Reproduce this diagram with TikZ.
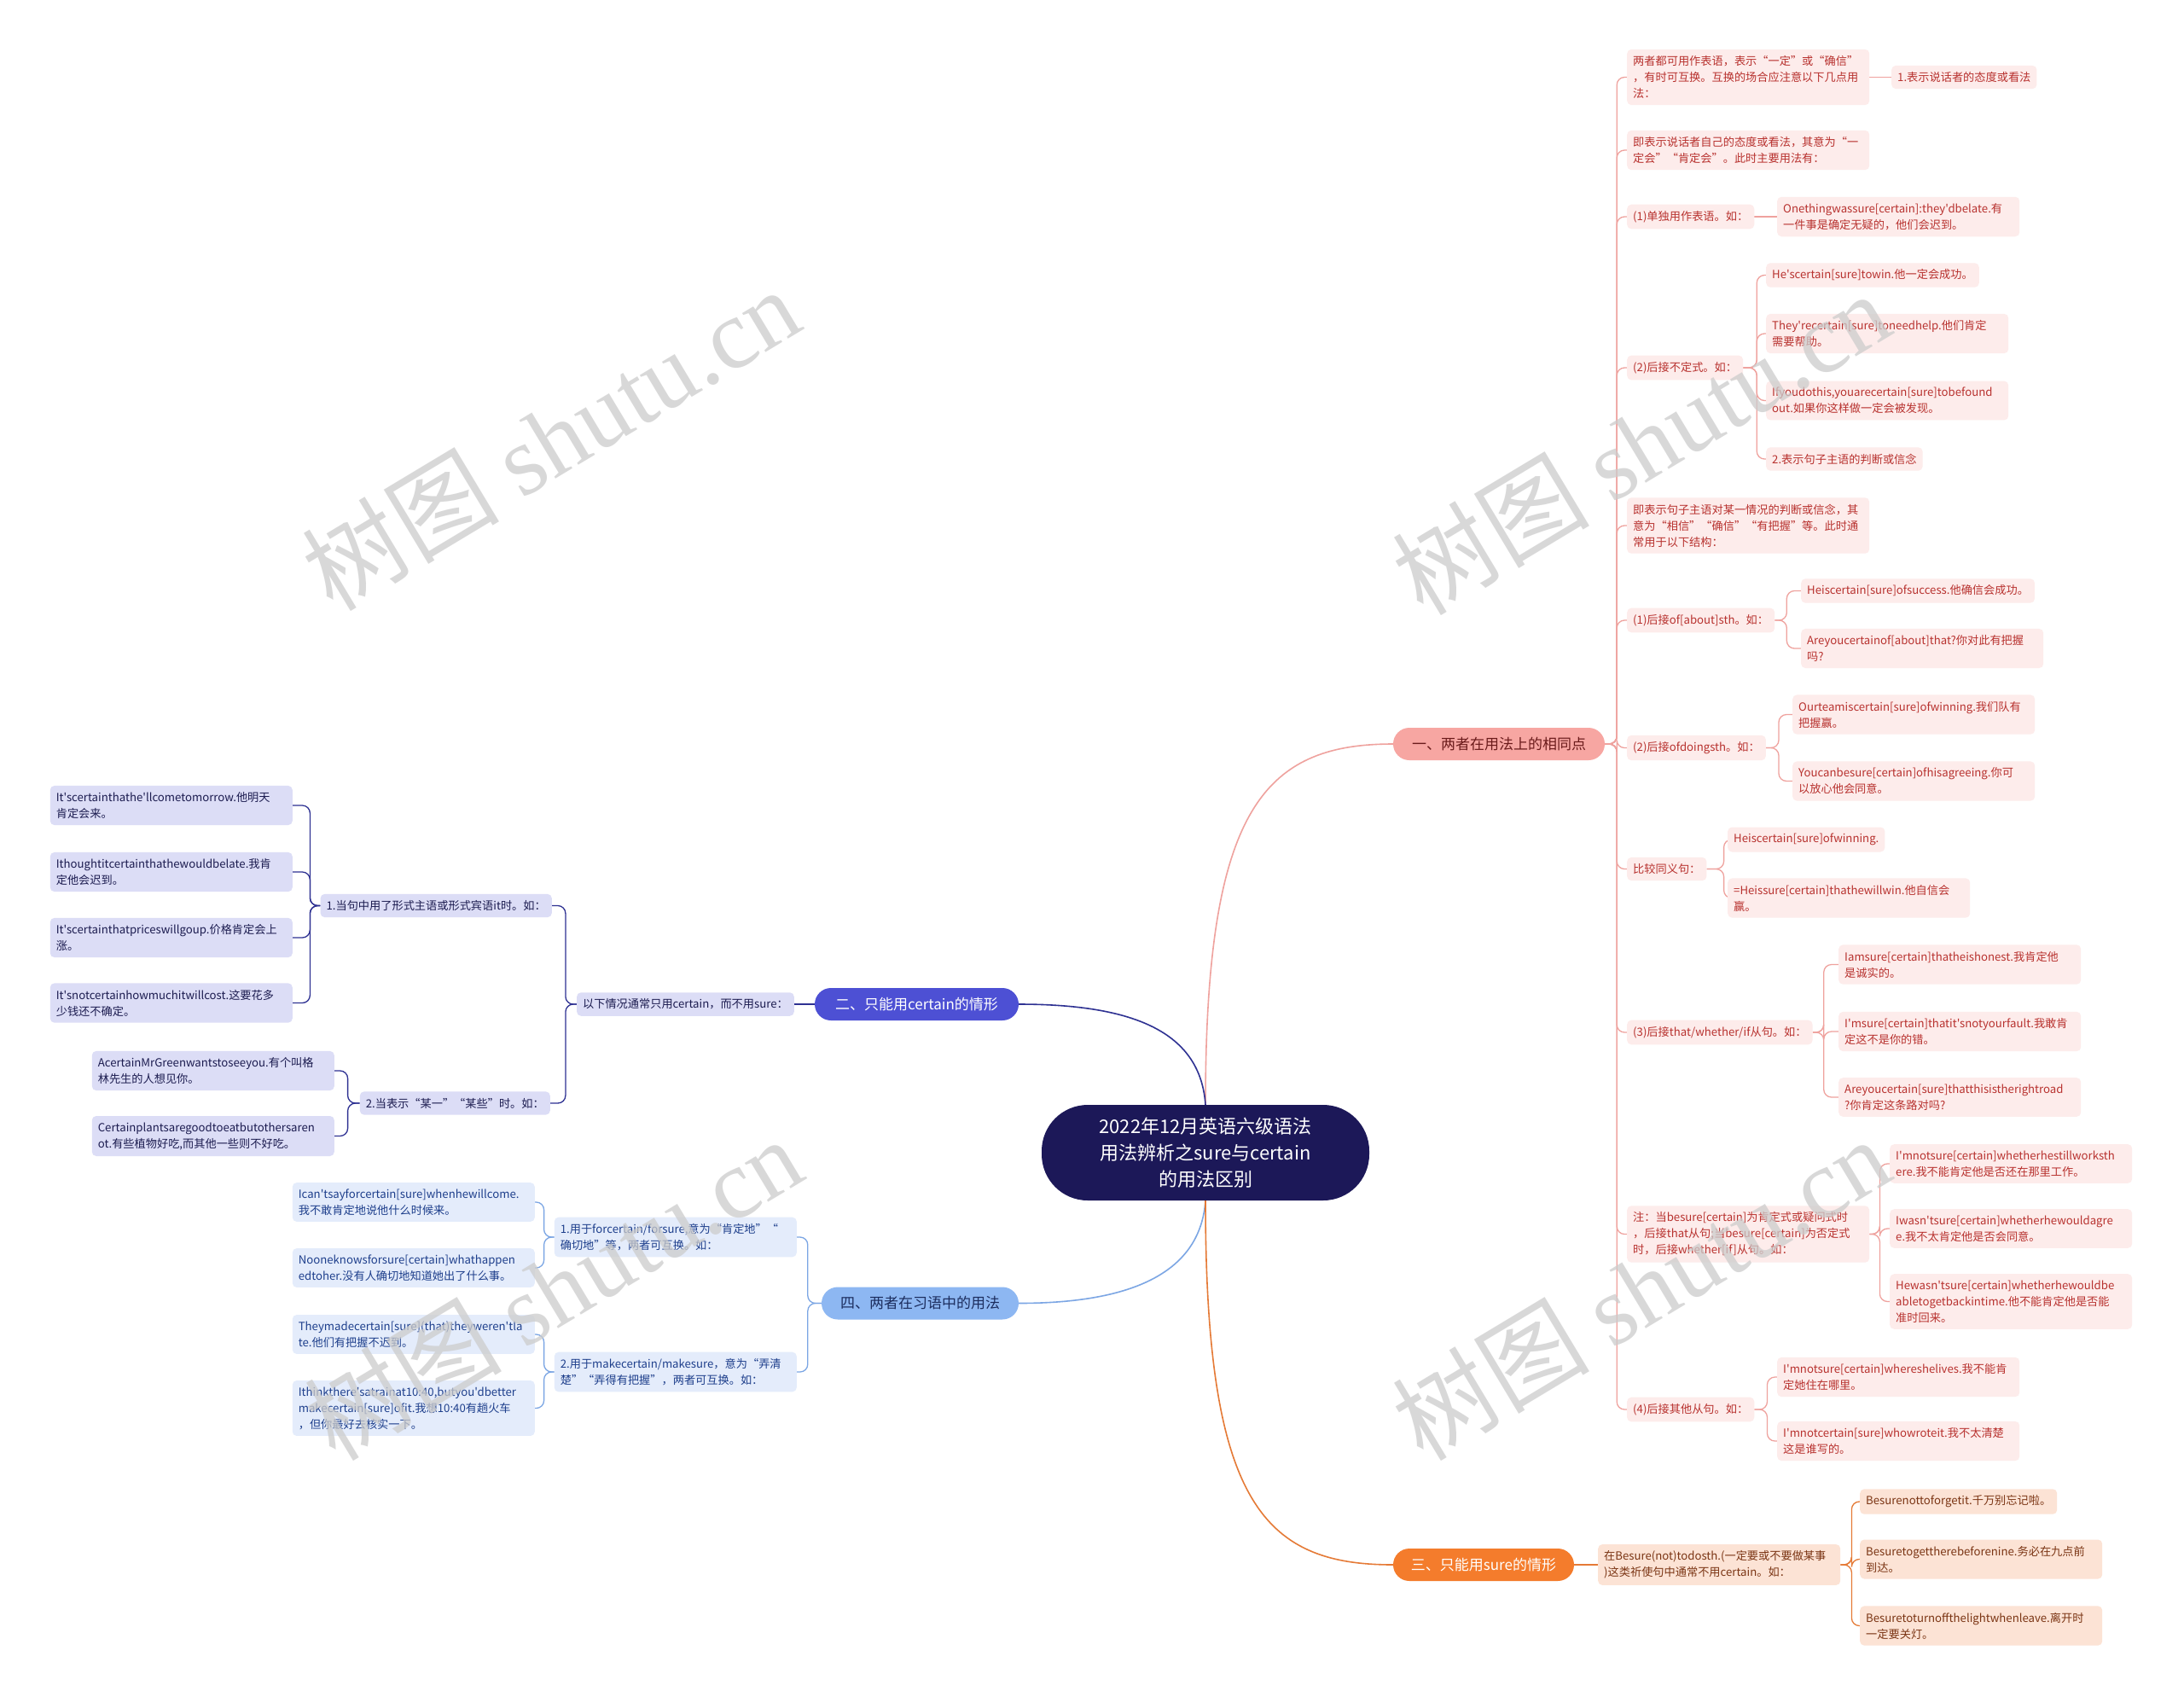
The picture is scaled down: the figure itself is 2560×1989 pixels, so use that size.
\documentclass[tikz,border=0pt]{standalone}
\usepackage{fontspec}
\setmainfont{Noto Sans CJK SC}[Ligatures=TeXOff]
\newfontfamily\wmserif{Liberation Serif}
\usetikzlibrary{backgrounds}
\hyphenpenalty=10000 \exhyphenpenalty=10000
\definecolor{cfill}{HTML}{1C1858}
\definecolor{pkone}{HTML}{F7A6A2}
\definecolor{pkonetext}{HTML}{6B1B1B}
\definecolor{pkfill}{HTML}{FDECEB}
\definecolor{pktext}{HTML}{B8322F}
\definecolor{pkline}{HTML}{EFA29E}
\definecolor{vione}{HTML}{4D50D4}
\definecolor{vifill}{HTML}{DCDDF6}
\definecolor{vitext}{HTML}{1C1C50}
\definecolor{viline}{HTML}{2E3192}
\definecolor{lbone}{HTML}{8DB7F2}
\definecolor{lbonetext}{HTML}{1C2D5E}
\definecolor{lbfill}{HTML}{E4ECFB}
\definecolor{lbtext}{HTML}{1E3F8C}
\definecolor{lbline}{HTML}{7CA6E4}
\definecolor{orone}{HTML}{F47C2C}
\definecolor{orfill}{HTML}{FCE3D5}
\definecolor{ortext}{HTML}{7B3514}
\definecolor{orline}{HTML}{E57A36}
\newcommand\fsm{\fontsize{13.2pt}{19pt}\selectfont}
\tikzset{
  box/.style={rounded corners=5pt, inner xsep=7pt, inner ysep=7.5pt, font=\fsm, align=left},
  wide/.style={text width=270pt},
  pk/.style={box, fill=pkfill, text=pktext, anchor=west},
  vi/.style={box, fill=vifill, text=vitext, anchor=east},
  lb/.style={box, fill=lbfill, text=lbtext, anchor=east},
  orb/.style={box, fill=orfill, text=ortext, anchor=west},
  lone/.style={rounded corners=19pt, minimum height=38pt, inner xsep=0pt, font=\fontsize{17pt}{20pt}\selectfont, align=center},
  pkl/.style={draw=pkline, line width=1.3pt, rounded corners=9pt},
  vil/.style={draw=viline, line width=1.3pt, rounded corners=9pt},
  lbl/.style={draw=lbline, line width=1.3pt, rounded corners=9pt},
  orl/.style={draw=orline, line width=1.3pt, rounded corners=9pt},
  wm/.style={rotate=31, text=black!20, opacity=0.75, font=\fontsize{116pt}{116pt}\selectfont},
}
\begin{document}
\begin{tikzpicture}[x=1pt,y=-1pt]
\useasboundingbox (0,0) rectangle (2560,1989);
% center
\node[fill=cfill, text=white, rounded corners=54pt, minimum width=384pt, minimum height=112pt, font=\fontsize{22pt}{31pt}\selectfont, align=center] (c) at (1413,1351) {2022年12月英语六级语法\\用法辨析之sure与certain\\的用法区别};
% level 1
\node[lone, fill=pkone, text=pkonetext, minimum width=248pt] (n1) at (1757,872) {一、两者在用法上的相同点};
\node[lone, fill=vione, text=white, minimum width=239pt] (n2) at (1074.5,1177) {二、只能用certain的情形};
\node[lone, fill=orone, text=white, minimum width=212pt] (n3) at (1739,1834) {三、只能用sure的情形};
\node[lone, fill=lbone, text=lbonetext, minimum width=231pt] (n4) at (1078.5,1527.5) {四、两者在习语中的用法};
% branch 1
\node[pk, wide] (a1) at (1907,90.5) {两者都可用作表语，表示“一定”或“确信”\\，有时可互换。互换的场合应注意以下几点用\\法：};
\node[pk] (a1c) at (2217,90.5) {1.表示说话者的态度或看法};
\node[pk, wide] (a2) at (1907,176) {即表示说话者自己的态度或看法，其意为“一\\定会”“肯定会”。此时主要用法有：};
\node[pk] (a3) at (1907,254) {(1)单独用作表语。如：};
\node[pk, wide] (a3c) at (2083,254) {Onethingwassure[certain]:they'dbelate.有\\一件事是确定无疑的，他们会迟到。};
\node[pk] (a4) at (1907,431) {(2)后接不定式。如：};
\node[pk] (a4c1) at (2070,322.5) {He'scertain[sure]towin.他一定会成功。};
\node[pk, wide] (a4c2) at (2070,391) {They'recertain[sure]toneedhelp.他们肯定\\需要帮助。};
\node[pk, wide] (a4c3) at (2070,469.5) {Ifyoudothis,youarecertain[sure]tobefound\\out.如果你这样做一定会被发现。};
\node[pk] (a4c4) at (2070,538) {2.表示句子主语的判断或信念};
\node[pk, wide] (a5) at (1907,616) {即表示句子主语对某一情况的判断或信念，其\\意为“相信”“确信”“有把握”等。此时通\\常用于以下结构：};
\node[pk] (a6) at (1907,727) {(1)后接of[about]sth。如：};
\node[pk] (a6c1) at (2111,692.5) {Heiscertain[sure]ofsuccess.他确信会成功。};
\node[pk, wide] (a6c2) at (2111,760) {Areyoucertainof[about]that?你对此有把握\\吗?};
\node[pk] (a7) at (1907,876.5) {(2)后接ofdoingsth。如：};
\node[pk, wide] (a7c1) at (2101,837.5) {Ourteamiscertain[sure]ofwinning.我们队有\\把握赢。};
\node[pk, wide] (a7c2) at (2101,915.5) {Youcanbesure[certain]ofhisagreeing.你可\\以放心他会同意。};
\node[pk] (a8) at (1907,1018.5) {比较同义句：};
\node[pk] (a8c1) at (2025,984) {Heiscertain[sure]ofwinning.};
\node[pk, wide] (a8c2) at (2025,1052.5) {=Heissure[certain]thathewillwin.他自信会\\赢。};
\node[pk] (a9) at (1907,1210) {(3)后接that/whether/if从句。如：};
\node[pk, wide] (a9c1) at (2155,1130.5) {Iamsure[certain]thatheishonest.我肯定他\\是诚实的。};
\node[pk, wide] (a9c2) at (2155,1209) {I'msure[certain]thatit'snotyourfault.我敢肯\\定这不是你的错。};
\node[pk, wide] (a9c3) at (2155,1286) {Areyoucertain[sure]thatthisistherightroad\\?你肯定这条路对吗?};
\node[pk, wide] (a10) at (1907,1446.5) {注：当besure[certain]为肯定式或疑问式时\\，后接that从句;当besure[certain]为否定式\\时，后接whether[if]从句。如：};
\node[pk, wide] (a10c1) at (2215,1364) {I'mnotsure[certain]whetherhestillworksth\\ere.我不能肯定他是否还在那里工作。};
\node[pk, wide] (a10c2) at (2215,1440) {Iwasn'tsure[certain]whetherhewouldagre\\e.我不太肯定他是否会同意。};
\node[pk, wide] (a10c3) at (2215,1525.5) {Hewasn'tsure[certain]whetherhewouldbe\\abletogetbackintime.他不能肯定他是否能\\准时回来。};
\node[pk] (a11) at (1907,1652) {(4)后接其他从句。如：};
\node[pk, wide] (a11c1) at (2083,1614) {I'mnotsure[certain]whereshelives.我不能肯\\定她住在哪里。};
\node[pk, wide] (a11c2) at (2083,1689) {I'mnotcertain[sure]whowroteit.我不太清楚\\这是谁写的。};
% branch 2
\node[vi] (b0) at (931,1177) {以下情况通常只用certain，而不用sure：};
\node[vi] (b1) at (647,1061.5) {1.当句中用了形式主语或形式宾语it时。如：};
\node[vi] (b2) at (645,1293) {2.当表示“某一”“某些”时。如：};
\node[vi, wide] (b1c1) at (343,944) {It'scertainthathe'llcometomorrow.他明天\\肯定会来。};
\node[vi, wide] (b1c2) at (343,1022) {Ithoughtitcertainthathewouldbelate.我肯\\定他会迟到。};
\node[vi, wide] (b1c3) at (343,1099) {It'scertainthatpriceswillgoup.价格肯定会上\\涨。};
\node[vi, wide] (b1c4) at (343,1175.5) {It'snotcertainhowmuchitwillcost.这要花多\\少钱还不确定。};
\node[vi, wide] (b2c1) at (392,1255) {AcertainMrGreenwantstoseeyou.有个叫格\\林先生的人想见你。};
\node[vi, wide] (b2c2) at (392,1331.5) {Certainplantsaregoodtoeatbutothersaren\\ot.有些植物好吃,而其他一些则不好吃。};
% branch 4
\node[lb, wide] (d1) at (934,1450) {1.用于forcertain/forsure,意为“肯定地”“\\确切地”等，两者可互换。如：};
\node[lb, wide] (d2) at (934,1608) {2.用于makecertain/makesure，意为“弄清\\楚”“弄得有把握”，两者可互换。如：};
\node[lb, wide] (d1c1) at (627,1409) {Ican'tsayforcertain[sure]whenhewillcome.\\我不敢肯定地说他什么时候来。};
\node[lb, wide] (d1c2) at (627,1486) {Nooneknowsforsure[certain]whathappen\\edtoher.没有人确切地知道她出了什么事。};
\node[lb, wide] (d2c1) at (627,1564) {Theymadecertain[sure](that)theyweren'tla\\te.他们有把握不迟到。};
\node[lb, wide] (d2c2) at (627,1650.5) {Ithinkthere'satrainat10:40,butyou'dbetter\\makecertain[sure]ofit.我想10:40有趟火车\\，但你最好去核实一下。};
% branch 3
\node[orb, wide] (e0) at (1873,1834) {在Besure(not)todosth.(一定要或不要做某事\\)这类祈使句中通常不用certain。如：};
\node[orb] (e1) at (2180,1760) {Besurenottoforgetit.千万别忘记啦。};
\node[orb, wide] (e2) at (2180,1827.5) {Besuretogettherebeforenine.务必在九点前\\到达。};
\node[orb, wide] (e3) at (2180,1905.5) {Besuretoturnoffthelightwhenleave.离开时\\一定要关灯。};
% connectors
\begin{scope}[on background layer]
\fill[white] (0,0) rectangle (2560,1989);
\draw[draw=pkline, line width=1.6pt] (c.north) .. controls (1413,950) and (1480,872) .. (n1.west);
\draw[draw=viline, line width=1.6pt] (c.north) .. controls (1407,1210) and (1330,1177) .. (n2.east);
\draw[draw=lbline, line width=1.6pt] (c.south) .. controls (1407,1490) and (1330,1527.5) .. (n4.east);
\draw[draw=orline, line width=1.6pt] (c.south) .. controls (1413,1760) and (1480,1834) .. (n3.west);
\foreach \t in {a1,a2,a3,a4,a5,a6,a7,a8,a9,a10,a11}
  \draw[pkl] (n1.east) -- ++(14,0) |- (\t.west);
\draw[pkl] (a1.east) -- (a1c.west);
\draw[pkl] (a3.east) -- (a3c.west);
\foreach \t in {a4c1,a4c2,a4c3,a4c4} \draw[pkl] (a4.east) -- ++(16,0) |- (\t.west);
\foreach \t in {a6c1,a6c2} \draw[pkl] (a6.east) -- ++(14,0) |- (\t.west);
\foreach \t in {a7c1,a7c2} \draw[pkl] (a7.east) -- ++(15,0) |- (\t.west);
\foreach \t in {a8c1,a8c2} \draw[pkl] (a8.east) -- ++(20,0) |- (\t.west);
\foreach \t in {a9c1,a9c2,a9c3} \draw[pkl] (a9.east) -- ++(13,0) |- (\t.west);
\foreach \t in {a10c1,a10c2,a10c3} \draw[pkl] (a10.east) -- ++(12,0) |- (\t.west);
\foreach \t in {a11c1,a11c2} \draw[pkl] (a11.east) -- ++(15,0) |- (\t.west);
\draw[vil] (n2.west) -- (b0.east);
\foreach \t in {b1,b2} \draw[vil] (b0.west) -- ++(-13,0) |- (\t.east);
\foreach \t in {b1c1,b1c2,b1c3,b1c4} \draw[vil] (b1.west) -- ++(-12,0) |- (\t.east);
\foreach \t in {b2c1,b2c2} \draw[vil] (b2.west) -- ++(-14,0) |- (\t.east);
\foreach \t in {d1,d2} \draw[lbl] (n4.west) -- ++(-16,0) |- (\t.east);
\foreach \t in {d1c1,d1c2} \draw[lbl] (d1.west) -- ++(-12,0) |- (\t.east);
\foreach \t in {d2c1,d2c2} \draw[lbl] (d2.west) -- ++(-12,0) |- (\t.east);
\draw[orl] (n3.east) -- (e0.west);
\foreach \t in {e1,e2,e3} \draw[orl] (e0.east) -- ++(13,0) |- (\t.west);
\end{scope}
% watermarks
\node[wm] (w1) at (645,514) {树图 {\wmserif shutu.cn}};
\node[wm] (w2) at (1923,519) {树图 {\wmserif shutu.cn}};
\node[wm] (w3) at (648,1510) {树图 {\wmserif shutu.cn}};
\node[wm] (w4) at (1923,1510) {树图 {\wmserif shutu.cn}};
\end{tikzpicture}
\end{document}
